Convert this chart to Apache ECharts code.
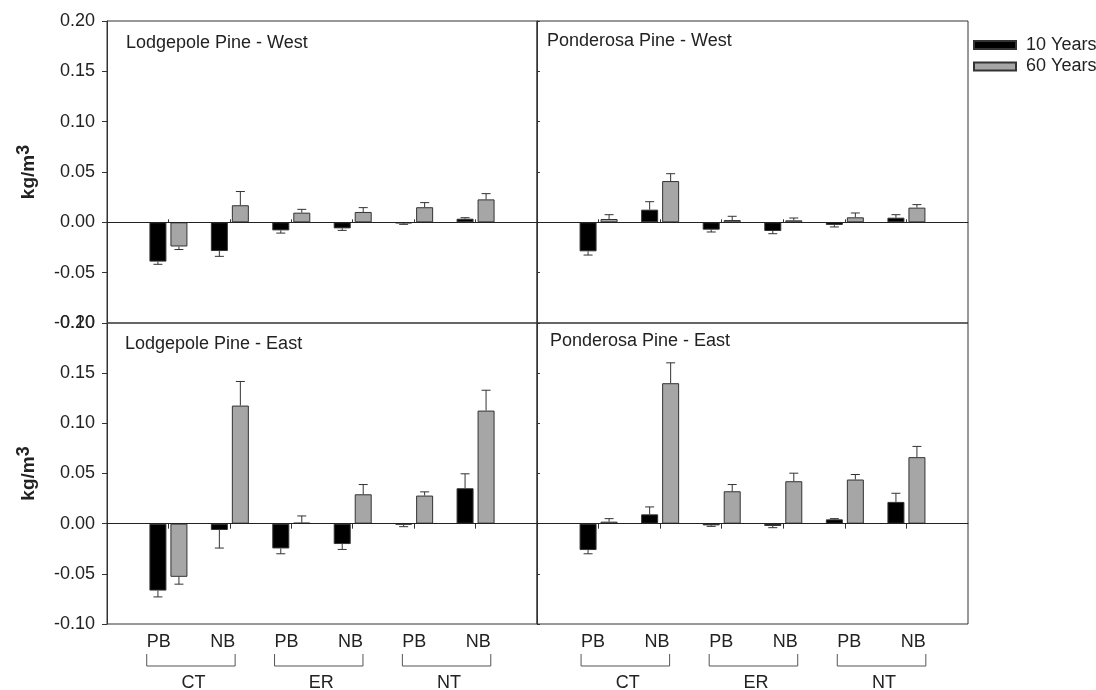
<!DOCTYPE html>
<html>
<head>
<meta charset="utf-8">
<script src="https://cdn.jsdelivr.net/npm/echarts@6/dist/echarts.min.js"></script>
<style>
  html, body { margin: 0; padding: 0; background: #fff; }
  #chart { width: 1096px; height: 690px; }
</style>
</head>
<body>
<div id="chart"></div>
<script>
// categories (first and last slot are empty padding)
var treatments = ['PB', 'NB', 'PB', 'NB', 'PB', 'NB'];
var groups = ['CT', 'ER', 'NT'];
var panelTitles = ['Lodgepole Pine - West', 'Ponderosa Pine - West', 'Lodgepole Pine - East', 'Ponderosa Pine - East'];
var seriesNames = ['10 Years', '60 Years'];

// Lodgepole Pine - West
var lpw10 = [-0.039, -0.0285, -0.008, -0.006, -0.001, 0.0036];
var lpw10Err = [0.0027, 0.0053, 0.0027, 0.002, 0.001, 0.001];
var lpw60 = [-0.024, 0.017, 0.0096, 0.0103, 0.015, 0.0228];
var lpw60Err = [0.003, 0.0136, 0.0033, 0.0043, 0.0046, 0.0057];
// Ponderosa Pine - West
var ppw10 = [-0.0288, 0.0126, -0.0073, -0.0086, -0.0026, 0.0046];
var ppw10Err = [0.0037, 0.0079, 0.0023, 0.0027, 0.002, 0.003];
var ppw60 = [0.0033, 0.041, 0.0023, 0.002, 0.005, 0.0146];
var ppw60Err = [0.0043, 0.0073, 0.0037, 0.0023, 0.0043, 0.003];
// Lodgepole Pine - East
var lpe10 = [-0.0667, -0.0063, -0.0247, -0.0203, -0.001, 0.0353];
var lpe10Err = [0.0063, 0.018, 0.0053, 0.0054, 0.002, 0.0144];
var lpe60 = [-0.053, 0.1177, 0.001, 0.0293, 0.028, 0.1127];
var lpe60Err = [0.0073, 0.024, 0.0067, 0.0097, 0.0037, 0.0203];
// Ponderosa Pine - East
var ppe10 = [-0.0263, 0.0093, -0.0017, -0.0023, 0.0043, 0.0217];
var ppe10Err = [0.0037, 0.0074, 0.001, 0.0017, 0.0007, 0.0086];
var ppe60 = [0.002, 0.14, 0.0323, 0.0423, 0.044, 0.0663];
var ppe60Err = [0.003, 0.0203, 0.0067, 0.008, 0.005, 0.0107];

var panels = [
  [lpw10, lpw10Err, lpw60, lpw60Err],
  [ppw10, ppw10Err, ppw60, ppw60Err],
  [lpe10, lpe10Err, lpe60, lpe60Err],
  [ppe10, ppe10Err, ppe60, ppe60Err]
];

var FONT = "'Liberation Sans', Arial, sans-serif";
var TXT = '#222';
var barW = 17;
var barGapPx = 4;
var half = (barW + barGapPx) / 2;
var colors = ['#000000', '#a6a6a6'];
var xCats = [''].concat(treatments).concat(['']);

// the original plot's PB/NB labels drift slightly right of their ticks
function labelShift(k, i) {
  return (k === 2 ? -9.7 : -5.5) + 2.48 * i;
}

var chartDom = document.getElementById('chart');
var chart = echarts.init(chartDom);

var gridPos = [
  { left: 107, top: 21, width: 430, height: 302 },
  { left: 537, top: 21, width: 431, height: 302 },
  { left: 107, top: 323, width: 430, height: 301 },
  { left: 537, top: 323, width: 431, height: 301 }
];
var titlePos = [[126, 34], [547, 32], [125, 335], [550, 332]];

var grid = [], xAxis = [], yAxis = [], series = [], title = [];

gridPos.forEach(function (g, k) {
  var isLeft = k % 2 === 0;
  var isBottom = k >= 2;
  grid.push({ left: g.left, top: g.top, width: g.width, height: g.height,
    show: true, borderColor: '#333', borderWidth: 1, containLabel: false });
  title.push({ text: panelTitles[k], left: titlePos[k][0], top: titlePos[k][1], padding: 0,
    textStyle: { fontSize: 18, fontWeight: 'normal', color: TXT, fontFamily: FONT } });

  var rich = {};
  for (var i = 0; i < xCats.length; i++) {
    var sh = isBottom && i > 0 ? labelShift(k, i - 1) : 0;
    rich['t' + i] = { fontSize: 18, color: TXT, fontFamily: FONT,
      padding: sh < 0 ? [0, -2 * sh, 0, 0] : [0, 0, 0, 2 * sh] };
  }
  xAxis.push({
    type: 'category', gridIndex: k, data: xCats, boundaryGap: false,
    axisLine: { lineStyle: { color: '#333', width: 1 } },
    axisTick: { show: true, inside: !isBottom, length: isBottom ? 5 : 3,
      interval: function (i) { return i > 0 && i < xCats.length - 1; },
      lineStyle: { color: '#333' } },
    axisLabel: { show: isBottom, interval: 0, fontSize: 18, color: TXT, fontFamily: FONT,
      margin: 9, rich: rich,
      formatter: function (v, idx) { return v ? '{t' + idx + '|' + v + '}' : ''; } },
    splitLine: { show: false }
  });
  yAxis.push({
    type: 'value', gridIndex: k, min: -0.1, max: 0.2, interval: 0.05,
    name: isLeft ? '{m|kg/m}{s|3}' : '',
    nameLocation: 'middle', nameGap: 66, nameRotate: 90,
    nameTextStyle: {
      rich: {
        m: { fontSize: 19, fontWeight: 'bold', color: TXT, fontFamily: FONT, lineHeight: 24 },
        s: { fontSize: 18, fontWeight: 'bold', color: TXT, fontFamily: FONT, lineHeight: 24, padding: [0, 0, 10, 0] }
      }
    },
    axisLine: { show: true, lineStyle: { color: '#333', width: 1 } },
    axisTick: { show: true, inside: !isLeft, length: isLeft ? 5 : 3, lineStyle: { color: '#333' } },
    axisLabel: { show: isLeft, fontSize: 18, color: TXT, fontFamily: FONT, margin: 12,
      showMinLabel: true, showMaxLabel: true,
      formatter: function (v) { return v.toFixed(2); } },
    splitLine: { show: false }
  });

  var d = panels[k];
  [0, 1].forEach(function (s) {
    var vals = d[s * 2];
    var barSeries = {
      name: seriesNames[s], type: 'bar', xAxisIndex: k, yAxisIndex: k,
      barWidth: barW, barGap: (barGapPx / barW * 100).toFixed(1) + '%',
      data: [null].concat(vals).concat([null]),
      itemStyle: { color: colors[s], borderColor: '#333', borderWidth: 1 },
      z: 3
    };
    if (s === 0) {
      barSeries.markLine = {
        silent: true, symbol: ['none', 'none'], label: { show: false },
        lineStyle: { color: '#222', width: 1, type: 'solid' },
        data: [{ yAxis: 0 }], z: 4
      };
    }
    series.push(barSeries);
  });
  [0, 1].forEach(function (s) {
    var vals = d[s * 2], errs = d[s * 2 + 1];
    var offset = s === 0 ? -half : half;
    series.push({
      name: seriesNames[s], type: 'custom', xAxisIndex: k, yAxisIndex: k, z: 5,
      data: vals.map(function (v, i) { return [i + 1, v, errs[i]]; }),
      renderItem: function (params, api) {
        var i = api.value(0), v = api.value(1), e = api.value(2);
        var end = v < 0 ? v - e : v + e;
        var p0 = api.coord([i, v]);
        var p1 = api.coord([i, end]);
        var x = p0[0] + offset;
        var st = { stroke: '#333', lineWidth: 1 };
        return { type: 'group', children: [
          { type: 'line', shape: { x1: x, y1: p0[1], x2: x, y2: p1[1] }, style: st },
          { type: 'line', shape: { x1: x - 4.5, y1: p1[1], x2: x + 4.5, y2: p1[1] }, style: st }
        ] };
      }
    });
  });
});

var option = {
  animation: false,
  backgroundColor: '#fff',
  title: title,
  legend: {
    orient: 'vertical', left: 973, top: 36, padding: 0, itemWidth: 42, itemHeight: 8, itemGap: 3.5,
    data: seriesNames, icon: 'rect',
    textStyle: { fontSize: 18, color: TXT, fontFamily: FONT, padding: [0, 0, 0, 5] }
  },
  grid: grid,
  xAxis: xAxis,
  yAxis: yAxis,
  series: series
};
chart.setOption(option);

// group brackets (CT / ER / NT) under the bottom panels, placed from the axis scale
var graphic = [];
[2, 3].forEach(function (k) {
  var base = gridPos[k].top + gridPos[k].height;
  groups.forEach(function (gname, gi) {
    var ia = gi * 2 + 1, ib = gi * 2 + 2;
    var xa = chart.convertToPixel({ xAxisIndex: k }, ia) + labelShift(k, ia - 1);
    var xb = chart.convertToPixel({ xAxisIndex: k }, ib) + labelShift(k, ib - 1);
    var l = xa - 12, r = xb + 12.5;
    graphic.push({ type: 'polyline', silent: true,
      shape: { points: [[l, base + 30], [l, base + 42], [r, base + 42], [r, base + 30]] },
      style: { stroke: '#555', lineWidth: 1, fill: null } });
    graphic.push({ type: 'text', silent: true, x: (l + r) / 2 + 2.5, y: base + 59,
      style: { text: gname, fontSize: 18, fill: TXT, fontFamily: FONT, align: 'center', verticalAlign: 'middle' } });
  });
});
chart.setOption({ graphic: graphic });
</script>
</body>
</html>
